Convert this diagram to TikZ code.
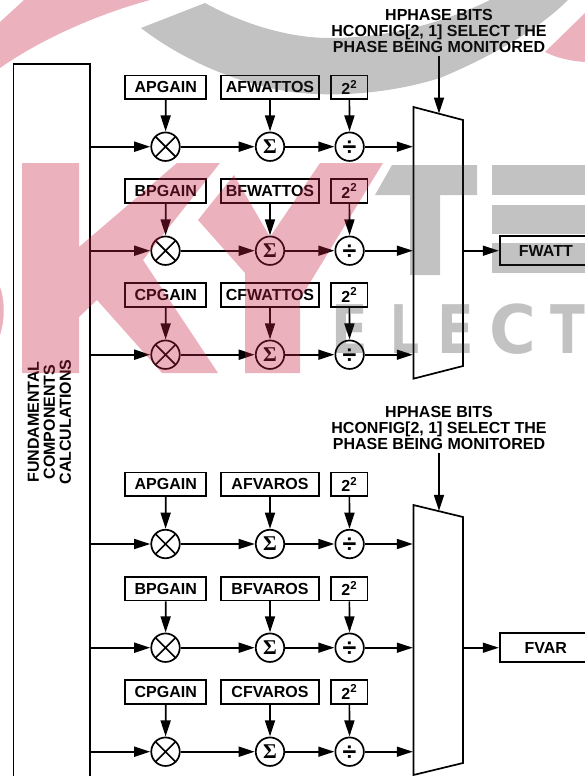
\documentclass[tikz,border=0pt]{standalone}
\usepackage{fontspec}
\setmainfont{Liberation Sans}[BoldFont={* Bold}]
\newfontfamily\sigmafont{Liberation Serif}[BoldFont={* Bold}]
\newfontfamily\wmfont{DejaVu Sans}[BoldFont={* Bold}]
\usetikzlibrary{arrows.meta}
\definecolor{wmpink}{RGB}{198,35,69}
\definecolor{wmgray}{RGB}{45,45,45}
\tikzset{
  lbl/.style={font=\fontsize{16}{16}\selectfont\bfseries,align=center,inner sep=3pt},
  regbox/.style={draw,line width=1.7pt,inner sep=0pt,minimum height=23.5pt,font=\fontsize{16}{16}\selectfont\bfseries},
  gainbox/.style={regbox,minimum width=81pt},
  watbox/.style={regbox,minimum width=98pt},
  pwbox/.style={regbox,minimum width=36.5pt},
  outbox/.style={regbox,minimum width=92pt,minimum height=29pt},
  opc/.style={draw,circle,line width=1.7pt,inner sep=0pt,minimum size=28.5pt},
  mulc/.style={opc,path picture={\draw[line width=1.7pt]
     (path picture bounding box.north west)--(path picture bounding box.south east)
     (path picture bounding box.north east)--(path picture bounding box.south west);}},
  arr/.style={line width=1.7pt,-{Triangle[length=16pt,width=10pt]},shorten >=0.2pt},
  wp/.style={fill=wmpink,fill opacity=.35,draw=none},
  wg/.style={fill=wmgray,fill opacity=.29,draw=none},
  wl/.style={text=wmgray,text opacity=.29,inner sep=0pt,font=\wmfont\fontsize{67}{67}\selectfont\bfseries,transform shape},
}
\newcommand{\Sg}{\makebox[0pt]{\smash{\raisebox{-6.8pt}{\sigmafont\fontsize{21}{21}\selectfont\bfseries Σ}}}}
\newcommand{\Dv}{\makebox[0pt]{\smash{\raisebox{-8.5pt}{\fontsize{25}{25}\selectfont\bfseries ÷}}}}
\newcommand{\Pw}{2\textsuperscript{\fontsize{11.5}{11.5}\selectfont\bfseries 2}}
\begin{document}
\begin{tikzpicture}[x=1pt,y=-1pt]
\useasboundingbox (0,0) rectangle (585,776);
\clip (0,0) rectangle (585,776);
% left block
\node[draw,line width=1.7pt,inner sep=0pt,minimum width=76.5pt,minimum height=740pt,anchor=north west] (fc) at (12.7,63) {};
\node[lbl,rotate=90,inner sep=0pt] (fct) at (49.5,422) {FUNDAMENTAL\\COMPONENTS\\CALCULATIONS};
% upper section
\node[lbl] (hp1) at (439,31) {HPHASE BITS\\HCONFIG[2, 1] SELECT THE\\PHASE BEING MONITORED};
\draw[line width=1.7pt] (413.4,107) coordinate (mt1) -- (463,120) -- (463,366) -- (413.4,378.7) -- cycle;
\coordinate (mtop1) at (439,113.7);
\node[gainbox] (ga1) at (165.8,87.3) {APGAIN};
\node[gainbox] (gb1) at (165.8,191) {BPGAIN};
\node[gainbox] (gc1) at (165.8,295) {CPGAIN};
\node[watbox] (oa1) at (270,87.3) {AFWATTOS};
\node[watbox] (ob1) at (270,191) {BFWATTOS};
\node[watbox] (oc1) at (270,295) {CFWATTOS};
\node[pwbox] (pa1) at (349.3,87.3) {\Pw};
\node[pwbox] (pb1) at (349.3,191) {\Pw};
\node[pwbox] (pc1) at (349.3,295) {\Pw};
\node[mulc] (ma1) at (165.5,146.7) {};
\node[mulc] (mb1) at (165.5,250.7) {};
\node[mulc] (mc1) at (165.5,354.7) {};
\node[opc] (sa1) at (270,146.7) {\Sg};
\node[opc] (sb1) at (270,250.7) {\Sg};
\node[opc] (sc1) at (270,354.7) {\Sg};
\node[opc] (da1) at (349.6,146.7) {\Dv};
\node[opc] (db1) at (349.6,250.7) {\Dv};
\node[opc] (dc1) at (349.6,354.7) {\Dv};
\coordinate (ia1) at (413,146.7);
\coordinate (ib1) at (413,250.7);
\coordinate (ic1) at (413,354.7);
\coordinate (out1) at (463,250.7);
\node[outbox,anchor=west] (fw) at (499,250.7) {FWATT};
\foreach \r in {a,b,c}{
  \draw[arr] (g\r1) -- (m\r1);
  \draw[arr] (o\r1) -- (s\r1);
  \draw[arr] (p\r1) -- (d\r1);
  \draw[arr] (fc.east |- m\r1) -- (m\r1);
  \draw[arr] (m\r1) -- (s\r1);
  \draw[arr] (s\r1) -- (d\r1);
  \draw[arr] (d\r1) -- (i\r1);
}
\draw[arr] (hp1.south) -- (mtop1);
\draw[arr] (out1) -- (fw);
% lower section
\node[lbl] (hp2) at (439,428) {HPHASE BITS\\HCONFIG[2, 1] SELECT THE\\PHASE BEING MONITORED};
\draw[line width=1.7pt] (413.4,505) -- (463,517) -- (463,763) -- (413.4,775) -- cycle;
\coordinate (mtop2) at (439,511);
\node[gainbox] (ga2) at (165.8,484.3) {APGAIN};
\node[gainbox] (gb2) at (165.8,588.7) {BPGAIN};
\node[gainbox] (gc2) at (165.8,692) {CPGAIN};
\node[watbox] (oa2) at (270,484.3) {AFVAROS};
\node[watbox] (ob2) at (270,588.7) {BFVAROS};
\node[watbox] (oc2) at (270,692) {CFVAROS};
\node[pwbox] (pa2) at (349.3,484.3) {\Pw};
\node[pwbox] (pb2) at (349.3,588.7) {\Pw};
\node[pwbox] (pc2) at (349.3,692) {\Pw};
\node[mulc] (ma2) at (165.5,544) {};
\node[mulc] (mb2) at (165.5,647.7) {};
\node[mulc] (mc2) at (165.5,751.7) {};
\node[opc] (sa2) at (270,544) {\Sg};
\node[opc] (sb2) at (270,647.7) {\Sg};
\node[opc] (sc2) at (270,751.7) {\Sg};
\node[opc] (da2) at (349.6,544) {\Dv};
\node[opc] (db2) at (349.6,647.7) {\Dv};
\node[opc] (dc2) at (349.6,751.7) {\Dv};
\coordinate (ia2) at (413,544);
\coordinate (ib2) at (413,647.7);
\coordinate (ic2) at (413,751.7);
\coordinate (out2) at (463,647.7);
\node[outbox,anchor=west] (fv) at (499,647.7) {FVAR};
\foreach \r in {a,b,c}{
  \draw[arr] (g\r2) -- (m\r2);
  \draw[arr] (o\r2) -- (s\r2);
  \draw[arr] (p\r2) -- (d\r2);
  \draw[arr] (fc.east |- m\r2) -- (m\r2);
  \draw[arr] (m\r2) -- (s\r2);
  \draw[arr] (s\r2) -- (d\r2);
  \draw[arr] (d\r2) -- (i\r2);
}
\draw[arr] (hp2.south) -- (mtop2);
\draw[arr] (out2) -- (fv);
% watermark: pink
\fill[wp] (0,22) -- (24,0) -- (150,0) .. controls (95,15) and (40,40) .. (0,68) -- cycle;
\fill[wp] (545,52) -- (585,13) -- (585,62) .. controls (570,61) and (557,58) .. (545,52) -- cycle;
\fill[wp] (0,287) .. controls (5,300) and (5,320) .. (0,335) -- cycle;
\fill[wp] (22,163) -- (79,163) -- (79,247) -- (177,163) -- (220,163) -- (143,260) -- (218,373) -- (162,373) -- (97,300) -- (79,317) -- (79,373) -- (22,373) -- cycle;
\fill[wp] (198,220) -- (234,175) -- (270,237) -- (320,163) -- (383,163) -- (300,299) -- (300,373) -- (245,373) -- (245,273) -- cycle;
% watermark: gray
\fill[wg] (141,28) -- (205,3) .. controls (245,25) and (290,38) .. (330,38) .. controls (390,38) and (445,22) .. (490,0) -- (568,0) .. controls (540,28) and (495,55) .. (440,78) .. controls (395,92) and (345,97) .. (300,93) .. controls (245,87) and (185,62) .. (141,28) -- cycle;
\fill[wg] (375,195) -- (392,165) -- (477,165) -- (477,195) -- (440,195) -- (440,275) -- (410,275) -- (410,195) -- cycle;
\fill[wg] (492,165) rectangle (585,195);
\fill[wg] (492,205) rectangle (585,234);
\fill[wg] (492,243) rectangle (585,273);
\node[wl,xscale=.8] (e1) at (349.5,329) {E};
\node[wl,xscale=.68] (e2) at (405,329) {L};
\node[wl,xscale=.8] (e3) at (456,329) {E};
\node[wl,xscale=.95] (e4) at (513,329) {C};
\node[wl,xscale=.76] (e5) at (567.5,329) {T};
\end{tikzpicture}
\end{document}
